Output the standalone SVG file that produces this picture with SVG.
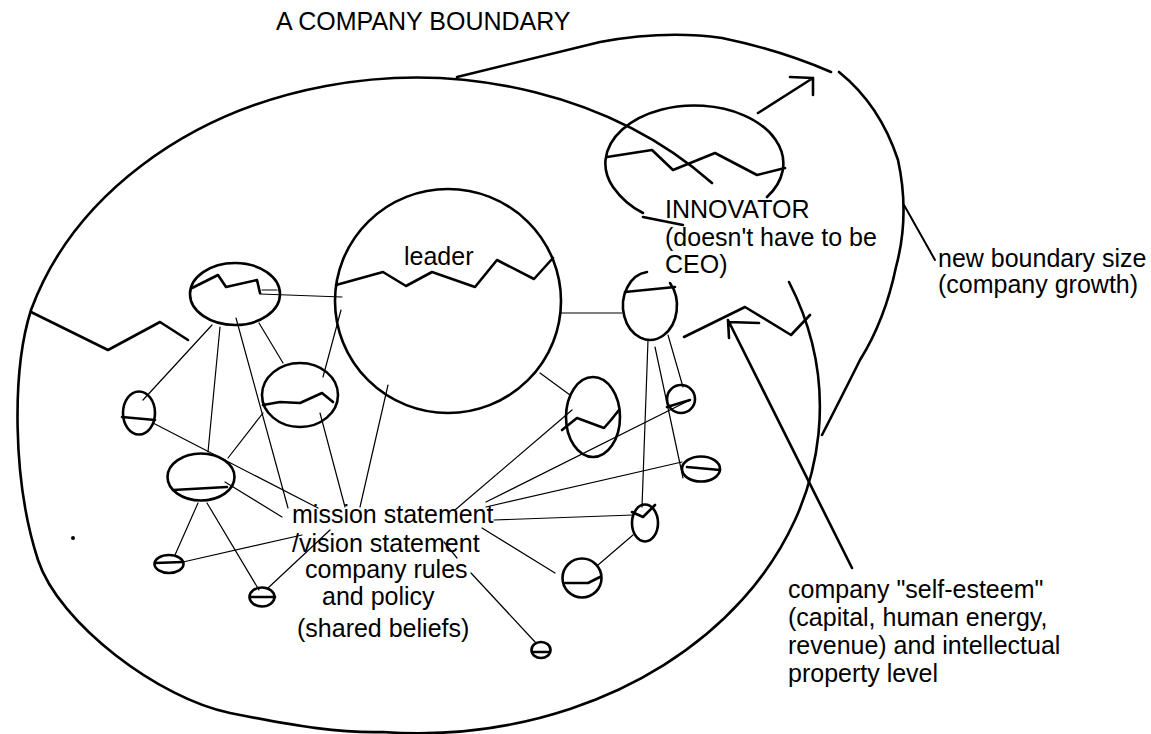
<svg xmlns="http://www.w3.org/2000/svg" width="1151" height="734" viewBox="0 0 1151 734">
<style>
.thick{fill:none;stroke:#000;stroke-width:2.6;stroke-linecap:round;stroke-linejoin:round}
.med{fill:none;stroke:#000;stroke-width:2;stroke-linecap:round;stroke-linejoin:round}
.thin{fill:none;stroke:#000;stroke-width:1.2;stroke-linecap:round}
.txt{font-family:"Liberation Sans",Arial,sans-serif;font-size:25px;fill:#000}
</style>
<rect width="1151" height="734" fill="#fff"/>
<g id="boundary">
<path class="thick" d="M712,183 A402,326 0 0 0 31,310 C12,370 12,480 38,560 C59,624 160,699 230,713 C300,727 340,733 383,732 A402,326 0 0 0 789,282"/>
<polyline class="thick" points="31,312 108,350 160,322 188,340"/>
<circle cx="73" cy="538" r="2" fill="#000"/>
</g>
<g id="new-boundary">
<path class="thick" d="M457,77 L600,42 Q665,30 722,38 Q780,50 831,72"/>
<path class="thick" d="M839,72 Q880,105 898,160 Q910,215 896,267 Q885,320 860,360 Q840,400 822,435"/>
</g>
<g id="connectors">
<line class="thin" x1="260" y1="294" x2="342" y2="297"/>
<line class="thin" x1="262" y1="290" x2="277" y2="290"/>
<line class="thin" x1="212" y1="325" x2="143" y2="400"/>
<line class="thin" x1="220" y1="327" x2="208" y2="452"/>
<line class="thin" x1="236" y1="318" x2="288" y2="508"/>
<line class="thin" x1="259" y1="323" x2="283" y2="363"/>
<line class="thin" x1="341" y1="310" x2="323" y2="377"/>
<line class="thin" x1="320" y1="413" x2="345" y2="507"/>
<line class="thin" x1="388" y1="385" x2="360" y2="507"/>
<line class="thin" x1="153" y1="423" x2="318" y2="508"/>
<line class="thin" x1="225" y1="482" x2="282" y2="517"/>
<line class="thin" x1="228" y1="458" x2="263" y2="413"/>
<line class="thin" x1="198" y1="503" x2="175" y2="555"/>
<line class="thin" x1="207" y1="503" x2="259" y2="590"/>
<line class="thin" x1="183" y1="562" x2="302" y2="535"/>
<line class="thin" x1="268" y1="588" x2="330" y2="530"/>
<line class="thin" x1="561" y1="313" x2="622" y2="313"/>
<line class="thin" x1="540" y1="373" x2="570" y2="395"/>
<line class="thin" x1="455" y1="510" x2="572" y2="410"/>
<line class="thin" x1="486" y1="502" x2="690" y2="400"/>
<line class="thin" x1="486" y1="507" x2="682" y2="462"/>
<line class="thin" x1="494" y1="520" x2="633" y2="515"/>
<line class="thin" x1="482" y1="528" x2="555" y2="573"/>
<line class="thin" x1="444" y1="542" x2="457" y2="558"/>
<line class="thin" x1="471" y1="573" x2="536" y2="643"/>
<line class="thin" x1="648" y1="340" x2="642" y2="507"/>
<line class="thin" x1="655" y1="347" x2="683" y2="478"/>
<line class="thin" x1="668" y1="335" x2="683" y2="387"/>
<line class="thin" x1="633" y1="535" x2="598" y2="565"/>
</g>
<g id="leader">
<ellipse class="thick" cx="448" cy="301" rx="113" ry="112"/>
<polyline class="thick" points="336,285 383,272 406,286 432,272 475,287 497,260 534,279 553,258"/>
<text class="txt" x="404" y="265">leader</text>
</g>
<g id="innovator">
<path class="thick" d="M767,197 A89,58 0 1 0 613,187 Q625,204 643,213"/>
<line class="thick" x1="643" y1="217" x2="683" y2="225"/>
<polyline class="thick" points="607,157 652,150 673,170 715,153 757,175 785,168"/>
<path class="thick" d="M758,113 L813,78 M790,77 L813,78 L813,95"/>
<text class="txt" x="665" y="218">INNOVATOR</text>
<text class="txt" x="665" y="245.5">(doesn't have to be</text>
<text class="txt" x="665" y="273">CEO)</text>
</g>
<g id="node-a">
<ellipse class="thick" cx="235" cy="294" rx="45" ry="31"/>
<polyline class="thick" points="192,288 218,275 226,287 257,280 260,293"/>
</g>
<g id="node-b">
<ellipse class="thick" cx="139" cy="413" rx="16" ry="21.5"/>
<line class="thick" x1="122" y1="417" x2="155" y2="420"/>
</g>
<g id="node-c">
<ellipse class="thick" cx="201" cy="477" rx="33.5" ry="23.5"/>
<line class="thick" x1="173" y1="490" x2="227" y2="487"/>
</g>
<g id="node-d">
<ellipse class="thick" cx="300" cy="395" rx="38" ry="32"/>
<polyline class="thick" points="263,405 280,402 300,403 322,393 333,402"/>
</g>
<g id="node-e">
<ellipse class="thick" cx="169" cy="564" rx="14.5" ry="9"/>
<line class="thick" x1="155" y1="563" x2="183" y2="562"/>
</g>
<g id="node-f">
<ellipse class="thick" cx="262" cy="597" rx="12.5" ry="9.5"/>
<line class="thick" x1="250" y1="597" x2="275" y2="597"/>
</g>
<g id="node-g">
<ellipse class="thick" cx="593" cy="417" rx="27" ry="40"/>
<polyline class="thick" points="562,430 577,418 604,428 611,420 619,410"/>
</g>
<g id="node-h">
<ellipse class="thick" cx="681" cy="399" rx="14" ry="14"/>
<line class="thick" x1="667" y1="407" x2="690" y2="400"/>
</g>
<g id="node-i">
<ellipse class="thick" cx="701" cy="469" rx="19" ry="12.5"/>
<line class="thick" x1="687" y1="467" x2="720" y2="470"/>
</g>
<g id="node-j">
<ellipse class="thick" cx="645" cy="523" rx="13" ry="18.5"/>
<polyline class="thick" points="632,512 643,517 655,505"/>
</g>
<g id="node-k">
<ellipse class="thick" cx="582" cy="578" rx="19.5" ry="19.5"/>
<polyline class="thick" points="565,583 588,583 600,577"/>
</g>
<g id="node-l">
<ellipse class="thick" cx="541" cy="650" rx="9.5" ry="8"/>
<line class="thick" x1="533" y1="652" x2="549" y2="652"/>
</g>
<g id="node-m">
<path class="thick" d="M647,272 A27,34 0 1 0 670,283"/>
<line class="thick" x1="625" y1="292" x2="675" y2="287"/>
</g>
<g id="self-esteem">
<polyline class="thick" points="684,337 745,307 791,335 810,315"/>
<path class="thick" d="M852,568 L728,320 M729,338 L728,320 M728,322 L759,323"/>
<text class="txt" x="788" y="598">company "self-esteem"</text>
<text class="txt" x="788" y="626">(capital, human energy,</text>
<text class="txt" x="788" y="654">revenue) and intellectual</text>
<text class="txt" x="788" y="682">property level</text>
</g>
<g id="growth-label">
<line class="med" x1="904" y1="205" x2="935" y2="260"/>
<text class="txt" x="938" y="267">new boundary size</text>
<text class="txt" x="938" y="293">(company growth)</text>
</g>
<g id="shared-beliefs">
<text class="txt" x="292" y="523">mission statement</text>
<text class="txt" x="292" y="552">/vision statement</text>
<text class="txt" x="305" y="578">company rules</text>
<text class="txt" x="322" y="605">and policy</text>
<text class="txt" x="297" y="637">(shared beliefs)</text>
</g>
<g id="title">
<text class="txt" x="276" y="30">A COMPANY BOUNDARY</text>
</g>
</svg>
